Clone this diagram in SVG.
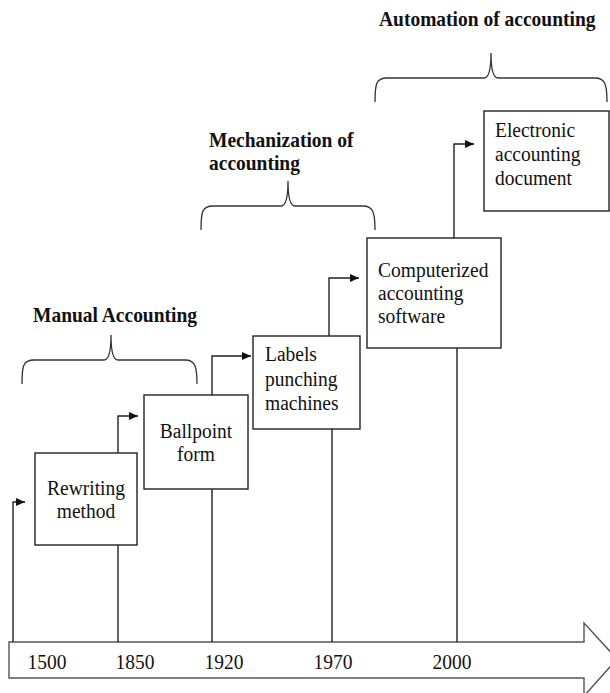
<svg xmlns="http://www.w3.org/2000/svg" width="610" height="693" viewBox="0 0 610 693">
<defs>
<style>
.box{fill:#fff;stroke:#222;stroke-width:1.4}
.ln{fill:none;stroke:#222;stroke-width:1.4}
.br{fill:none;stroke:#333;stroke-width:1.3}
.t{font-family:"Liberation Serif","Times New Roman",serif;font-size:19.5px;fill:#111}
.h{font-family:"Liberation Serif","Times New Roman",serif;font-size:19.5px;font-weight:bold;fill:#111}
.tl{fill:#fff;stroke:#555;stroke-width:1.4}
</style>
<marker id="ah" markerUnits="userSpaceOnUse" markerWidth="10" markerHeight="10" refX="9" refY="5" orient="auto">
<path d="M0,1 L9,5 L0,9 Z" fill="#111"/>
</marker>
</defs>
<rect width="610" height="693" fill="#fff"/>

<g id="timeline">
<polygon class="tl" points="9,642 584,642 584,623 617,659 584,696 584,678 9,678"/>
<text class="t" transform="translate(47,669) scale(1,1.12)" text-anchor="middle">1500</text>
<text class="t" transform="translate(135,669) scale(1,1.12)" text-anchor="middle">1850</text>
<text class="t" transform="translate(224,669) scale(1,1.12)" text-anchor="middle">1920</text>
<text class="t" transform="translate(333,669) scale(1,1.12)" text-anchor="middle">1970</text>
<text class="t" transform="translate(452,669) scale(1,1.12)" text-anchor="middle">2000</text>
</g>

<g id="connectors">
<path class="ln" d="M13,642 V502 H25" marker-end="url(#ah)"/>
<path class="ln" d="M118,642 V545"/>
<path class="ln" d="M118,453 V416 H138" marker-end="url(#ah)"/>
<path class="ln" d="M212,642 V489"/>
<path class="ln" d="M212,395 V356 H251" marker-end="url(#ah)"/>
<path class="ln" d="M332,642 V429"/>
<path class="ln" d="M329,336 V278 H359" marker-end="url(#ah)"/>
<path class="ln" d="M457,642 V348"/>
<path class="ln" d="M454,238 V144 H474" marker-end="url(#ah)"/>
</g>

<g id="node-rewriting">
<rect class="box" x="35" y="453" width="102" height="92"/>
<text class="t" transform="translate(86,495) scale(1,1.12)" text-anchor="middle">Rewriting</text>
<text class="t" transform="translate(86,518) scale(1,1.12)" text-anchor="middle">method</text>
</g>

<g id="node-ballpoint">
<rect class="box" x="144" y="395" width="104" height="94"/>
<text class="t" transform="translate(196,438) scale(1,1.12)" text-anchor="middle">Ballpoint</text>
<text class="t" transform="translate(196,461) scale(1,1.12)" text-anchor="middle">form</text>
</g>

<g id="node-labels">
<rect class="box" x="253" y="336" width="107" height="93"/>
<text class="t" transform="translate(265,361) scale(1,1.12)">Labels</text>
<text class="t" transform="translate(265,386) scale(1,1.12)">punching</text>
<text class="t" transform="translate(265,410) scale(1,1.12)">machines</text>
</g>

<g id="node-computerized">
<rect class="box" x="367" y="238" width="134" height="110"/>
<text class="t" transform="translate(378,277) scale(1,1.12)">Computerized</text>
<text class="t" transform="translate(378,300) scale(1,1.12)">accounting</text>
<text class="t" transform="translate(378,323) scale(1,1.12)">software</text>
</g>

<g id="node-electronic">
<rect class="box" x="484" y="111" width="125" height="100"/>
<text class="t" transform="translate(495,137) scale(1,1.12)">Electronic</text>
<text class="t" transform="translate(495,161) scale(1,1.12)">accounting</text>
<text class="t" transform="translate(495,185) scale(1,1.12)">document</text>
</g>

<g id="group-manual">
<text class="h" transform="translate(33,322) scale(1,1.12)">Manual Accounting</text>
<path class="br" d="M22,384 C22,366 23,360 34,360 H104 C109,360 111,352 111,335 C111,352 113,360 118,360 H185 C195,360 197,366 197,384"/>
</g>

<g id="group-mechanization">
<text class="h" transform="translate(209,147) scale(1,1.12)">Mechanization of</text>
<text class="h" transform="translate(209,170) scale(1,1.12)">accounting</text>
<path class="br" d="M201,230 C201,212 202,206 213,206 H281 C286,206 288,198 288,181 C288,198 290,206 295,206 H363 C373,206 375,212 375,230"/>
</g>

<g id="group-automation">
<text class="h" transform="translate(379,26) scale(1,1.12)">Automation of accounting</text>
<path class="br" d="M375,102 C375,84 376,78 387,78 H484 C489,78 491,70 491,53 C491,70 493,78 498,78 H595 C605,78 607,84 607,102"/>
</g>
</svg>
